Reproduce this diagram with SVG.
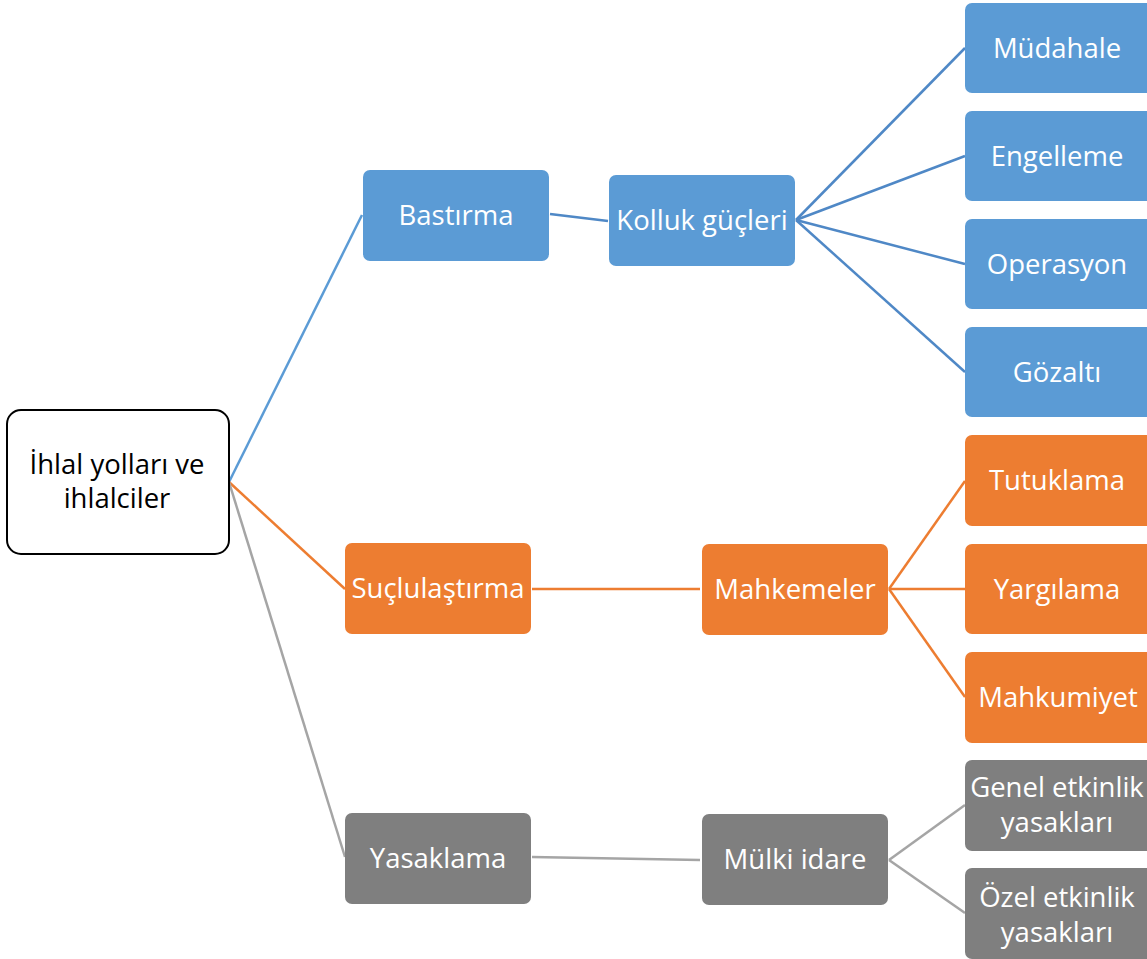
<svg xmlns="http://www.w3.org/2000/svg" width="1147" height="959" viewBox="0 0 1147 959">
<style>
text{font-family:"Open Sans","Liberation Sans",sans-serif;font-size:27.5px;text-anchor:middle;fill:#fff}
.root text{fill:#000}
.b rect{fill:#5B9BD5}
.o rect{fill:#ED7D31}
.g rect{fill:#7F7F7F}
.lb{stroke:#4F88C6;stroke-width:2.5;fill:none}
.lb0{stroke:#5B9BD5;stroke-width:2.5;fill:none}
.lo{stroke:#ED7D31;stroke-width:2.5;fill:none}
.lg{stroke:#A5A5A5;stroke-width:2.5;fill:none}
</style>
<rect width="1147" height="959" fill="#fff"/>
<g id="connectors">
<line class="lb0" x1="229" y1="482" x2="362" y2="215"/>
<line class="lo" x1="229" y1="482" x2="345" y2="589"/>
<line class="lg" x1="229" y1="482" x2="345" y2="857"/>
<line class="lb" x1="550" y1="214" x2="608" y2="221"/>
<line class="lb" x1="796" y1="220" x2="965" y2="48"/>
<line class="lb" x1="796" y1="220" x2="965" y2="156"/>
<line class="lb" x1="796" y1="220" x2="965" y2="264"/>
<line class="lb" x1="796" y1="220" x2="965" y2="372"/>
<line class="lo" x1="532" y1="589" x2="700" y2="589"/>
<line class="lo" x1="889" y1="589" x2="965" y2="481"/>
<line class="lo" x1="889" y1="589" x2="965" y2="589"/>
<line class="lo" x1="889" y1="589" x2="965" y2="697"/>
<line class="lg" x1="532" y1="857" x2="700" y2="860"/>
<line class="lg" x1="889" y1="860" x2="965" y2="805"/>
<line class="lg" x1="889" y1="860" x2="965" y2="913"/>
</g>
<g id="root" class="root"><rect x="7" y="410" width="222" height="144" rx="14" fill="#fff" stroke="#000" stroke-width="2"/><text x="117" y="474">İhlal yolları ve</text><text x="117" y="508">ihlalciler</text></g>
<g id="bastirma" class="b"><rect x="363" y="170" width="186" height="91" rx="7"/><text x="456" y="225">Bastırma</text></g>
<g id="kolluk" class="b"><rect x="609" y="175" width="186" height="91" rx="7"/><text x="702" y="230">Kolluk güçleri</text></g>
<g id="mudahale" class="b"><rect x="965" y="3" width="190" height="90" rx="7"/><text x="1057" y="58">Müdahale</text></g>
<g id="engelleme" class="b"><rect x="965" y="111" width="190" height="90" rx="7"/><text x="1057" y="166">Engelleme</text></g>
<g id="operasyon" class="b"><rect x="965" y="219" width="190" height="90" rx="7"/><text x="1057" y="274">Operasyon</text></g>
<g id="gozalti" class="b"><rect x="965" y="327" width="190" height="90" rx="7"/><text x="1057" y="382">Gözaltı</text></g>
<g id="suclulastirma" class="o"><rect x="345" y="543" width="186" height="91" rx="7"/><text x="438" y="598">Suçlulaştırma</text></g>
<g id="mahkemeler" class="o"><rect x="702" y="544" width="186" height="91" rx="7"/><text x="795" y="599">Mahkemeler</text></g>
<g id="tutuklama" class="o"><rect x="965" y="435" width="190" height="91" rx="7"/><text x="1057" y="490">Tutuklama</text></g>
<g id="yargilama" class="o"><rect x="965" y="544" width="190" height="90" rx="7"/><text x="1057" y="599">Yargılama</text></g>
<g id="mahkumiyet" class="o"><rect x="965" y="652" width="190" height="91" rx="7"/><text x="1058" y="707">Mahkumiyet</text></g>
<g id="yasaklama" class="g"><rect x="345" y="813" width="186" height="91" rx="7"/><text x="438" y="868">Yasaklama</text></g>
<g id="mulki" class="g"><rect x="702" y="814" width="186" height="91" rx="7"/><text x="795" y="869">Mülki idare</text></g>
<g id="genel" class="g"><rect x="965" y="760" width="190" height="91" rx="7"/><text x="1057" y="797">Genel etkinlik</text><text x="1057" y="832">yasakları</text></g>
<g id="ozel" class="g"><rect x="965" y="868" width="190" height="91" rx="7"/><text x="1057" y="907">Özel etkinlik</text><text x="1057" y="942">yasakları</text></g>
</svg>
